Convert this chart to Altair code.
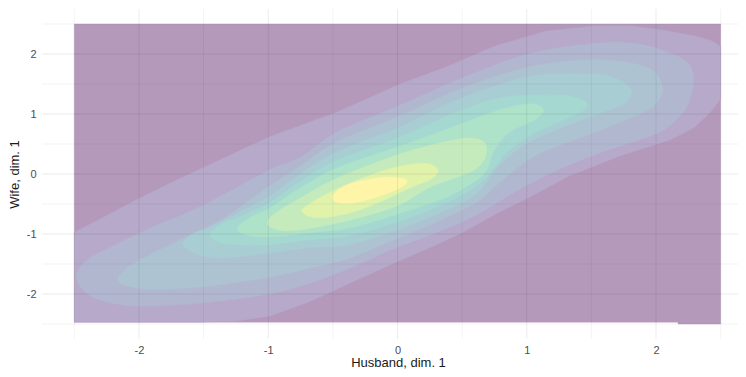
import altair as alt
import pandas as pd

# ---- density-band outlines (data units) ----
lvl1_x = [-2.5, 2.5, 2.5, 2.17, 2.17, -2.5]
lvl1_y = [2.5, 2.5, -2.5, -2.5, -2.47, -2.47]

lvl2_x = [-2.5, -2.30, -2.02, -1.68, -1.33, -0.99, -0.47, 0.02, 0.37, 0.75, 1.14, 1.53, 1.80, 2.05, 2.30, 2.43, 2.5,
          2.5, 2.42, 2.30, 2.11, 1.72, 1.33, 1.01, 0.75, 0.50, 0.25, -0.02, -0.37, -0.68, -0.99, -1.24, -1.53, -2.5]
lvl2_y = [-0.97, -0.75, -0.43, -0.07, 0.28, 0.62, 1.03, 1.50, 1.78, 2.13, 2.38, 2.47, 2.47, 2.40, 2.30, 2.22, 2.12,
          1.25, 1.03, 0.78, 0.57, 0.30, -0.03, -0.40, -0.68, -0.98, -1.23, -1.48, -1.82, -2.13, -2.37, -2.45, -2.47, -2.47]

lvl3_x = [-2.47, -2.47, -2.38, -2.22, -1.89, -1.51, -0.99, -0.75, -0.47, 0.00, 0.50, 1.01, 1.53, 1.85, 2.09, 2.25,
          2.29, 2.26, 2.19, 2.01, 1.59, 1.20, 0.91, 0.64, 0.50, 0.25, 0.00, -0.37, -0.68, -0.99, -1.51, -2.02, -2.34]
lvl3_y = [-1.82, -1.60, -1.40, -1.22, -0.88, -0.53, 0.07, 0.28, 0.70, 1.13, 1.60, 2.00, 2.18, 2.17, 2.03, 1.85,
          1.57, 1.23, 0.98, 0.68, 0.37, 0.03, -0.30, -0.65, -0.80, -1.02, -1.22, -1.57, -1.82, -2.00, -2.15, -2.20, -2.07]

lvl4_x = [-2.16, -2.11, -1.99, -1.76, -1.37, -1.12, -0.99, -0.75, -0.47, 0.00, 0.50, 1.01, 1.47, 1.80, 1.99, 2.05,
          1.99, 1.85, 1.47, 1.08, 0.83, 0.64, 0.50, 0.25, 0.00, -0.37, -0.68, -0.99, -1.51, -1.91, -2.11]
lvl4_y = [-1.75, -1.60, -1.43, -1.18, -0.77, -0.40, -0.20, 0.13, 0.53, 0.95, 1.43, 1.78, 1.90, 1.85, 1.70, 1.40,
          1.15, 0.98, 0.65, 0.32, -0.07, -0.43, -0.60, -0.85, -1.07, -1.40, -1.57, -1.72, -1.88, -1.92, -1.85]

lvl5_x = [-1.66, -1.57, -1.45, -1.12, -0.99, -0.75, -0.47, 0.00, 0.50, 1.01, 1.47, 1.68, 1.81, 1.76, 1.64, 1.33,
          1.01, 0.79, 0.64, 0.50, 0.25, 0.00, -0.37, -0.68, -0.99, -1.37, -1.57]
lvl5_y = [-1.15, -0.98, -0.88, -0.52, -0.37, 0.00, 0.37, 0.77, 1.27, 1.62, 1.67, 1.60, 1.40, 1.18, 1.07, 0.82,
          0.52, 0.15, -0.27, -0.48, -0.72, -0.93, -1.18, -1.23, -1.32, -1.40, -1.32]

lvl6_x = [-1.45, -1.36, -1.24, -1.12, -0.99, -0.75, -0.47, 0.00, 0.50, 0.82, 1.18, 1.37, 1.47, 1.41, 1.20, 1.01,
          0.83, 0.68, 0.50, 0.25, 0.00, -0.37, -0.68, -0.99, -1.24, -1.39]
lvl6_y = [-1.00, -0.83, -0.73, -0.62, -0.48, -0.12, 0.23, 0.60, 1.07, 1.28, 1.32, 1.28, 1.17, 1.02, 0.82, 0.62,
          0.32, -0.07, -0.35, -0.60, -0.80, -1.03, -1.10, -1.18, -1.18, -1.13]

lvl7_x = [-1.24, -1.12, -0.99, -0.75, -0.47, 0.00, 0.41, 0.79, 1.03, 1.13, 1.06, 0.87, 0.75, 0.68, 0.52, 0.33,
          0.00, -0.37, -0.68, -0.99, -1.16]
lvl7_y = [-0.90, -0.70, -0.57, -0.23, 0.10, 0.45, 0.77, 1.07, 1.17, 1.07, 0.90, 0.70, 0.40, 0.03, -0.23, -0.43,
          -0.67, -0.90, -0.98, -1.05, -1.02]

lvl8_x = [-1.01, -0.91, -0.75, -0.47, 0.00, 0.33, 0.54, 0.66, 0.69, 0.66, 0.56, 0.25, 0.00, -0.37, -0.75, -0.93]
lvl8_y = [-0.80, -0.60, -0.40, -0.07, 0.32, 0.52, 0.60, 0.55, 0.40, 0.20, 0.03, -0.22, -0.53, -0.77, -0.93, -0.93]

lvl9_x = [-0.74, -0.66, -0.47, -0.21, 0.00, 0.21, 0.31, 0.27, 0.10, -0.14, -0.37, -0.62]
lvl9_y = [-0.62, -0.47, -0.25, -0.02, 0.12, 0.18, 0.08, -0.07, -0.23, -0.47, -0.65, -0.73]

lvl10_x = [-0.50, -0.41, -0.25, -0.06, 0.07, 0.03, -0.14, -0.33, -0.46]
lvl10_y = [-0.37, -0.20, -0.10, -0.05, -0.10, -0.22, -0.37, -0.48, -0.48]

levels = [(lvl1_x, lvl1_y), (lvl2_x, lvl2_y), (lvl3_x, lvl3_y), (lvl4_x, lvl4_y), (lvl5_x, lvl5_y),
          (lvl6_x, lvl6_y), (lvl7_x, lvl7_y), (lvl8_x, lvl8_y), (lvl9_x, lvl9_y), (lvl10_x, lvl10_y)]

# axis breaks
major_breaks = [-2, -1, 0, 1, 2]
minor_breaks = [-2.5, -1.5, -0.5, 0.5, 1.5, 2.5]

# ---- styling ----
viridis10 = ["#440154", "#482878", "#3E4A89", "#31688E", "#26828E",
             "#1F9E89", "#35B779", "#6DCD59", "#B4DE2C", "#FDE725"]
ALPHA = 0.4


def blend(hexc, a=ALPHA):
    r, g, b = (int(hexc[i:i + 2], 16) for i in (1, 3, 5))
    mix = lambda c: round(a * c + (1 - a) * 255)
    return "#{:02X}{:02X}{:02X}".format(mix(r), mix(g), mix(b))


FONT = "Liberation Sans"
xscale = alt.Scale(domain=[-2.75, 2.634], nice=False, zero=False)
yscale = alt.Scale(domain=[-2.75, 2.75], nice=False, zero=False)
xaxis = alt.Axis(values=major_breaks, labelExpr="toString(datum.value)", grid=False, domain=False,
                 ticks=False, tickSize=0, labelPadding=5, labelFontSize=11, labelColor="#4D4D4D",
                 labelFont=FONT, titleFont=FONT, titleFontSize=13, titleFontWeight="normal",
                 titleColor="#1A1A1A", titleX=356, titleY=27, titleBaseline="alphabetic",
                 titleAlign="center")
yaxis = alt.Axis(values=major_breaks, labelExpr="toString(datum.value)", grid=False, domain=False,
                 ticks=False, tickSize=0, labelPadding=6, labelFontSize=11, labelColor="#4D4D4D",
                 labelFont=FONT, titleFont=FONT, titleFontSize=13, titleFontWeight="normal",
                 titleColor="#1A1A1A", titlePadding=5)


def X():
    return alt.X("x:Q", scale=xscale, axis=xaxis, title="Husband, dim. 1")


def Y():
    return alt.Y("y:Q", scale=yscale, axis=yaxis, title="Wife, dim. 1")


layers = []
for k, (xs, ys) in enumerate(levels):
    assert len(xs) == len(ys)
    df = pd.DataFrame({"x": xs, "y": ys, "i": list(range(len(xs)))})
    col = blend(viridis10[k])
    interp = "linear-closed" if k < 2 else "cardinal-closed"
    layers.append(
        alt.Chart(df).mark_line(interpolate=interp, fill=col, stroke=col, strokeWidth=0.4)
        .encode(x=X(), y=Y(), order=alt.Order("i:Q"))
    )

# grid lines drawn over the translucent-looking bands
for vals, w, op in [(minor_breaks, 0.7, 0.07), (major_breaks, 1.0, 0.08)]:
    layers.append(alt.Chart(pd.DataFrame({"x": vals})).mark_rule(color="black", strokeWidth=w, opacity=op)
                  .encode(x=X()))
    layers.append(alt.Chart(pd.DataFrame({"y": vals})).mark_rule(color="black", strokeWidth=w, opacity=op)
                  .encode(y=Y()))

chart = alt.layer(*layers).properties(
    width=696, height=330,
    autosize=alt.AutoSizeParams(type="none"),
    padding={"left": 34, "top": 1, "right": 0, "bottom": 30},
    background="white",
).configure_view(stroke=None)

chart.save("out.html", embed_options={"renderer": "svg", "actions": False})
